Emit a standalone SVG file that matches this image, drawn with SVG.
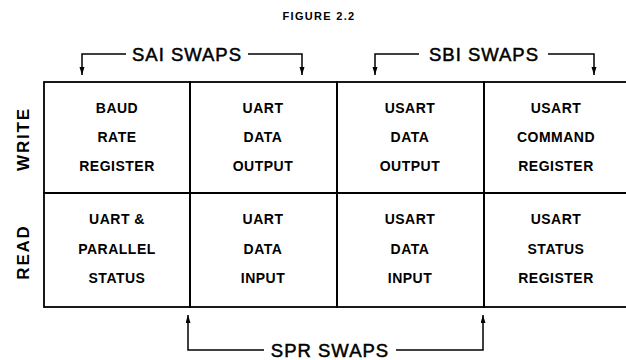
<svg xmlns="http://www.w3.org/2000/svg" width="626" height="360" viewBox="0 0 626 360">
<style>
  .cell { fill: none; stroke: #000; stroke-width: 1.8; }
  .t { font-family: "Liberation Sans", Arial, sans-serif; font-weight: bold; font-size: 14px; letter-spacing: 0.5px; text-anchor: middle; fill: #000; }
  .side { font-family: "Liberation Sans", Arial, sans-serif; font-weight: bold; font-size: 17px; letter-spacing: 1.8px; text-anchor: middle; fill: #000; }
  .br { font-family: "Liberation Sans", Arial, sans-serif; font-size: 18.5px; letter-spacing: 1px; text-anchor: middle; fill: #000; stroke: #000; stroke-width: 0.5px; }
  .title { font-family: "Liberation Sans", Arial, sans-serif; font-weight: bold; font-size: 11px; letter-spacing: 1.3px; text-anchor: middle; fill: #000; }
  .con { fill: none; stroke: #000; stroke-width: 1.5; }
</style>
<defs>
  <marker id="ah" markerUnits="userSpaceOnUse" markerWidth="9" markerHeight="6" refX="8" refY="2.5" orient="auto">
    <path d="M0,0 L8,2.5 L0,5 z" fill="#000"/>
  </marker>
</defs>
<rect width="626" height="360" fill="#fff"/>
<text class="title" x="319" y="20">FIGURE 2.2</text>

<g id="label-write"><text class="side" transform="translate(29,139) rotate(-90)">WRITE</text></g>
<g id="label-read"><text class="side" transform="translate(29,252) rotate(-90)">READ</text></g>

<g id="baud-rate-register">
  <rect class="cell" x="44" y="82" width="146" height="111"/>
  <text class="t" x="117" y="113">BAUD</text>
  <text class="t" x="117" y="142">RATE</text>
  <text class="t" x="117" y="171">REGISTER</text>
</g>
<g id="uart-data-output">
  <rect class="cell" x="190" y="82" width="147" height="111"/>
  <text class="t" x="263" y="113">UART</text>
  <text class="t" x="263" y="142">DATA</text>
  <text class="t" x="263" y="171">OUTPUT</text>
</g>
<g id="usart-data-output">
  <rect class="cell" x="337" y="82" width="147" height="111"/>
  <text class="t" x="410" y="113">USART</text>
  <text class="t" x="410" y="142">DATA</text>
  <text class="t" x="410" y="171">OUTPUT</text>
</g>
<g id="usart-command-register">
  <rect class="cell" x="484" y="82" width="150" height="111"/>
  <text class="t" x="556" y="113">USART</text>
  <text class="t" x="556" y="142">COMMAND</text>
  <text class="t" x="556" y="171">REGISTER</text>
</g>
<g id="uart-parallel-status">
  <rect class="cell" x="44" y="193" width="146" height="114"/>
  <text class="t" x="117" y="224">UART &amp;</text>
  <text class="t" x="117" y="254">PARALLEL</text>
  <text class="t" x="117" y="283">STATUS</text>
</g>
<g id="uart-data-input">
  <rect class="cell" x="190" y="193" width="147" height="114"/>
  <text class="t" x="263" y="224">UART</text>
  <text class="t" x="263" y="254">DATA</text>
  <text class="t" x="263" y="283">INPUT</text>
</g>
<g id="usart-data-input">
  <rect class="cell" x="337" y="193" width="147" height="114"/>
  <text class="t" x="410" y="224">USART</text>
  <text class="t" x="410" y="254">DATA</text>
  <text class="t" x="410" y="283">INPUT</text>
</g>
<g id="usart-status-register">
  <rect class="cell" x="484" y="193" width="150" height="114"/>
  <text class="t" x="556" y="224">USART</text>
  <text class="t" x="556" y="254">STATUS</text>
  <text class="t" x="556" y="283">REGISTER</text>
</g>

<g id="connectors">
  <path class="con" d="M126,54 H82 V75" marker-end="url(#ah)"/>
  <path class="con" d="M248,54 H302 V75" marker-end="url(#ah)"/>
  <text class="br" x="187" y="60.5">SAI SWAPS</text>
  <path class="con" d="M419,54 H375 V75" marker-end="url(#ah)"/>
  <path class="con" d="M548,54 H594 V75" marker-end="url(#ah)"/>
  <text class="br" x="484" y="60.5">SBI SWAPS</text>
  <path class="con" d="M264,350 H188 V315" marker-end="url(#ah)"/>
  <path class="con" d="M396,350 H483 V315" marker-end="url(#ah)"/>
  <text class="br" x="330" y="357">SPR SWAPS</text>
</g>
</svg>
